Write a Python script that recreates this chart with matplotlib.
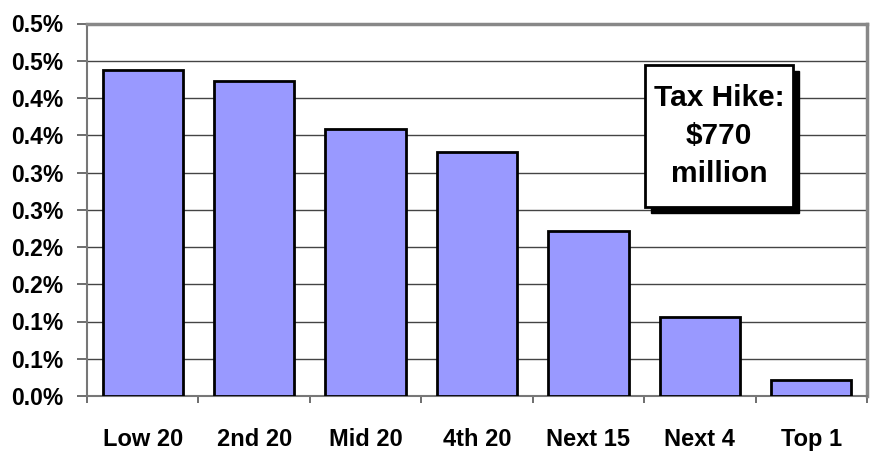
import matplotlib.pyplot as plt
from matplotlib.patches import Rectangle
import numpy as np

categories = ['Low 20', '2nd 20', 'Mid 20', '4th 20', 'Next 15', 'Next 4', 'Top 1']
values = [0.437, 0.423, 0.359, 0.327, 0.222, 0.106, 0.021]  # percent of income
ytick_vals = [0.0, 0.05, 0.10, 0.15, 0.20, 0.25, 0.30, 0.35, 0.40, 0.45, 0.50]
ytick_labels = ['0.0%', '0.1%', '0.1%', '0.2%', '0.2%', '0.3%', '0.3%',
                '0.4%', '0.4%', '0.5%', '0.5%']
note = 'Tax Hike:\n$770\nmillion'

fig = plt.figure(figsize=(8.72, 4.54), dpi=100)
ax = fig.add_axes([87 / 872, 58 / 454, 780 / 872, 372.5 / 454])

x = np.arange(len(categories))
ax.bar(x, values, width=0.72, color='#9999FF', edgecolor='black', linewidth=2, zorder=3)

ax.set_xlim(-0.5, len(categories) - 0.5)
ax.set_ylim(0, 0.5)
ax.set_yticks(ytick_vals)
ax.set_yticklabels(ytick_labels, fontsize=16.5, fontweight='bold',
                   family=['Liberation Sans', 'DejaVu Sans'])
ax.yaxis.grid(True, color='#444444', linewidth=1)
ax.set_axisbelow(True)

# category ticks sit between the bars, labels sit under the bars
ax.set_xticks(np.arange(len(categories) + 1) - 0.5)
ax.set_xticklabels([])
ax.set_xticks(x, minor=True)
ax.set_xticklabels(categories, minor=True, fontsize=17, fontweight='bold',
                   family=['Liberation Sans', 'DejaVu Sans'])
ax.tick_params(axis='x', which='minor', length=0, pad=23)
ax.tick_params(axis='x', which='major', length=5, width=1.2, color='#555555')
ax.tick_params(axis='y', length=7, width=1.2, color='#555555', pad=10)

for side in ['left', 'bottom']:
    ax.spines[side].set_color('#777777')
    ax.spines[side].set_linewidth(1.5)
for side in ['top', 'right']:
    ax.spines[side].set_color('#888888')
    ax.spines[side].set_linewidth(2.5)

# note box with drop shadow
bx, by, bw, bh = 558 / 780, (396 - 207) / 372.5, 148 / 780, 142 / 372.5
ax.add_patch(Rectangle((bx + 6 / 780, by - 6 / 372.5), bw, bh, transform=ax.transAxes,
                       facecolor='black', edgecolor='black', zorder=5))
ax.add_patch(Rectangle((bx, by), bw, bh, transform=ax.transAxes,
                       facecolor='white', edgecolor='black', linewidth=2, zorder=6))
ax.text(bx + bw / 2, by + bh / 2, note, transform=ax.transAxes, ha='center', va='center',
        fontsize=21.5, fontweight='bold', linespacing=1.45,
        family=['Liberation Sans', 'DejaVu Sans'], zorder=7)

fig.savefig('out.png', dpi=100)
